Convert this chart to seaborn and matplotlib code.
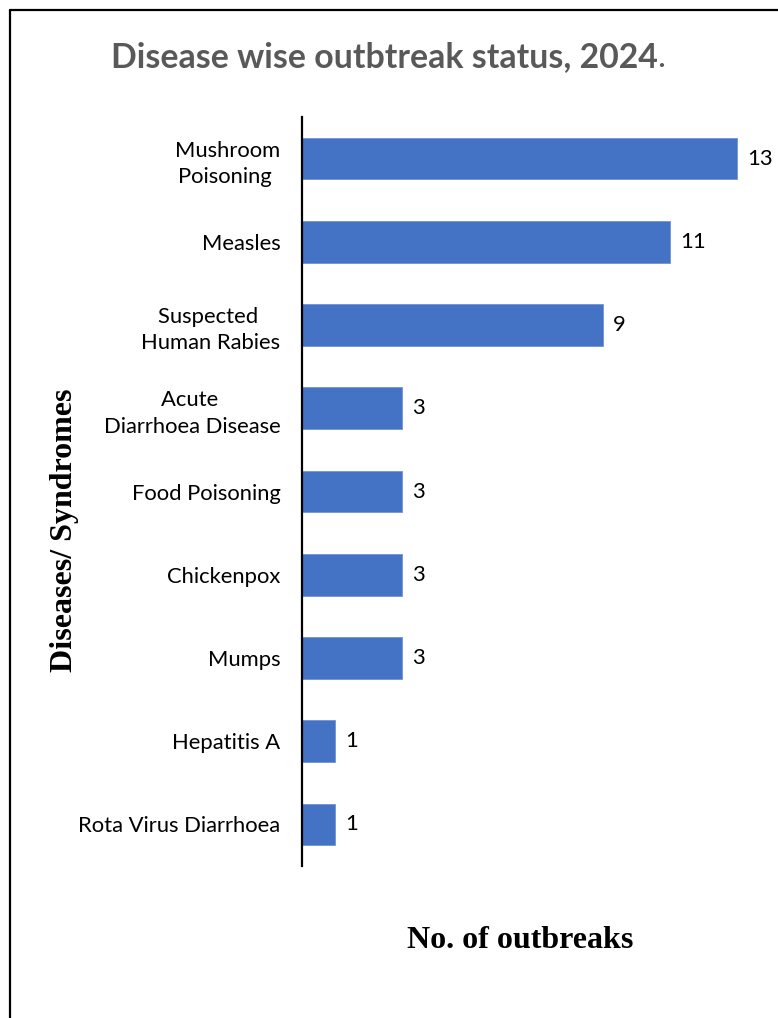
import matplotlib
matplotlib.use("Agg")
import matplotlib.pyplot as plt
import seaborn as sns
from matplotlib.lines import Line2D

categories = ["Mushroom\nPoisoning ", "Measles", "Suspected \nHuman Rabies", "Acute \nDiarrhoea Disease",
              "Food Poisoning", "Chickenpox", "Mumps", "Hepatitis A", "Rota Virus Diarrhoea"]
outbreaks = [13, 11, 9, 3, 3, 3, 3, 1, 1]

title_main = "Disease wise outbtreak status, 2024"
title_end = "."
xlabel = "No. of outbreaks"
ylabel = "Diseases/ Syndromes"

sns.set_theme(style="white")
plt.rcParams['font.family'] = ['Lato', 'DejaVu Sans']

W, H = 778, 1018
fig = plt.figure(figsize=(W / 100, H / 100), dpi=100)
ax = fig.add_axes([302 / W, 1 - 866 / H, 468.5 / W, (866 - 117) / H])

sns.barplot(x=outbreaks, y=categories, orient="h", color="#4472C4", width=0.5,
            saturation=1, ax=ax, edgecolor="#6f94d6", linewidth=0.6)
ax.set_xlim(0, 14)
ax.set_ylim(8.5, -0.5)

for c in ax.containers:
    ax.bar_label(c, padding=7, fontsize=15.8, color="#000000", family=['Lato', 'DejaVu Sans'])

for s in ["top", "right", "bottom"]:
    ax.spines[s].set_visible(False)
ax.spines["left"].set_color("black")
ax.spines["left"].set_linewidth(1.6)
ax.set_xticks([])
ax.tick_params(axis="y", length=0, pad=15.5, labelsize=15.8, labelcolor="#000000")
for lab in ax.get_yticklabels():
    lab.set_multialignment("center")
    lab.set_linespacing(1.4)
ax.set_xlabel("")
ax.set_ylabel("")

# title
t1 = fig.text(0.5, 1 - 67 / H, title_main, ha="center", va="baseline", fontsize=24.4,
              fontweight="bold", color="#595959", family=['Lato', 'DejaVu Sans'])
fig.canvas.draw()
bb = t1.get_window_extent()
t1.set_x((bb.x0 - 5) / W)
t1.set_ha("left")
fig.canvas.draw()
bb = t1.get_window_extent()
fig.text(bb.x1 / W, 1 - 67 / H, title_end, ha="left", va="baseline", fontsize=24.4,
         color="#595959", family=['Lato', 'DejaVu Sans'])

fig.text(520 / W, 1 - 940 / H, xlabel, ha="center", va="center", fontsize=23,
         fontweight="bold", family=['Liberation Serif', 'DejaVu Serif'], color="black")
fig.text(65 / W, 1 - 530 / H, ylabel, ha="center", va="center", rotation=90, fontsize=23,
         fontweight="bold", family=['Liberation Serif', 'DejaVu Serif'], color="black")

# frame
fig.add_artist(Line2D([10 / W, 10 / W], [0, 1 - 10 / H], color="black", linewidth=1.6,
                      transform=fig.transFigure))
fig.add_artist(Line2D([10 / W, 1], [1 - 10 / H, 1 - 10 / H], color="black", linewidth=1.6,
                      transform=fig.transFigure))

fig.savefig("out.png", dpi=100)
